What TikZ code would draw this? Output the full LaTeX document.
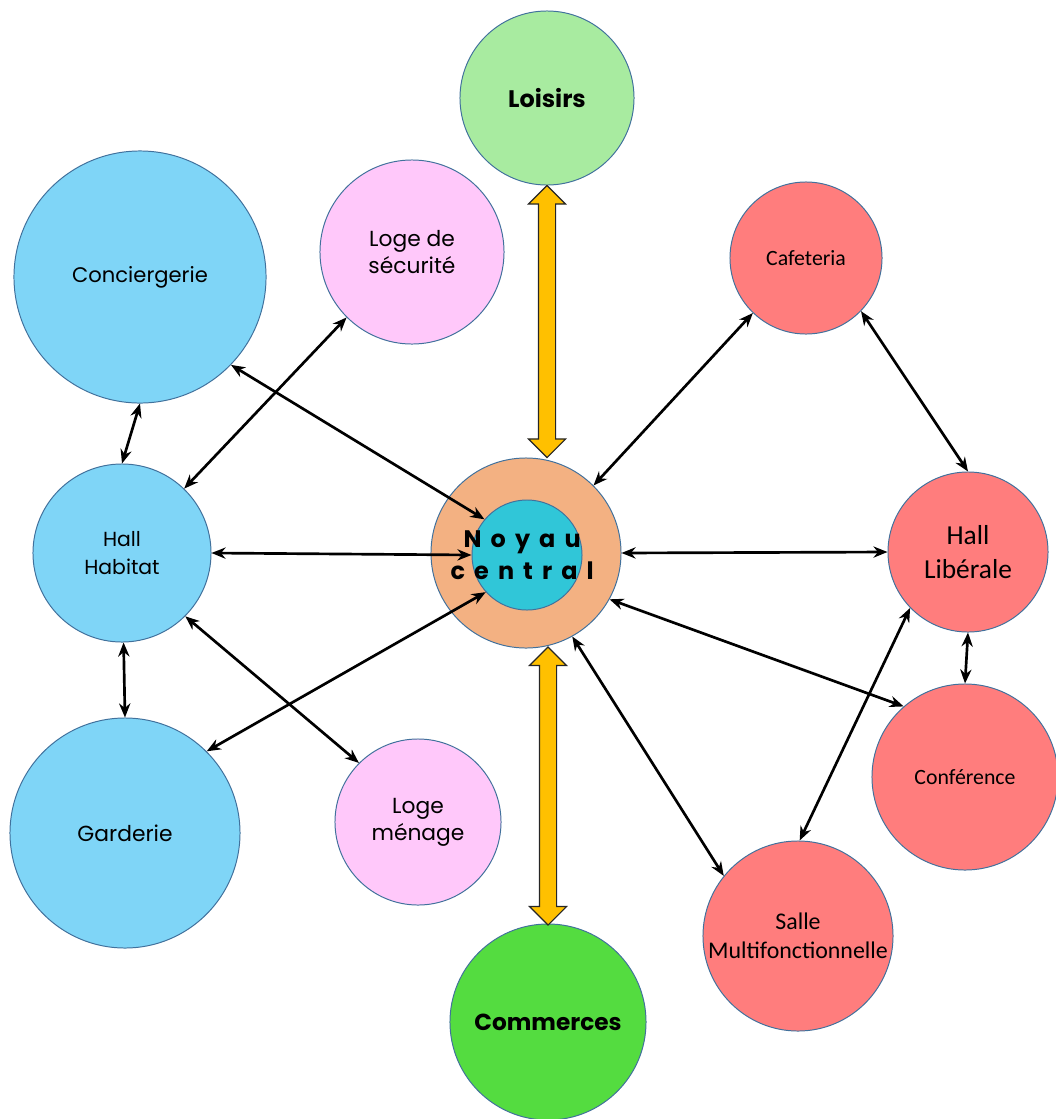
\documentclass[tikz,border=0pt]{standalone}
\usepackage{fontspec}
\setmainfont{Poppins}
\newfontfamily\calib{Carlito}
\newfontfamily\spaced[LetterSpace=38]{Poppins}
\usepackage{xcolor}
\usetikzlibrary{shapes.arrows, arrows.meta, calc}
\definecolor{rim}{RGB}{65,113,156}
\definecolor{habitat}{RGB}{127,213,247}
\definecolor{lodge}{RGB}{255,200,250}
\definecolor{leisure}{RGB}{168,235,160}
\definecolor{shops}{RGB}{84,220,64}
\definecolor{liberal}{RGB}{255,125,125}
\definecolor{ring}{RGB}{243,177,130}
\definecolor{heart}{RGB}{48,198,216}
\definecolor{gold}{RGB}{255,192,0}
\tikzset{
    room/.style={circle, draw=rim, line width=0.7pt, inner sep=0pt, align=center, text=black},
    link/.style={line width=1.9pt, {Stealth[length=10pt,width=8pt]}-{Stealth[length=10pt,width=8pt]}},
    flow/.style={double arrow, draw=black!85, fill=gold, line width=0.8pt, rotate=90,
        inner xsep=0pt, inner ysep=0.2cm, double arrow head extend=0.25cm}
}

\begin{document}
\begin{tikzpicture}[x=0.025cm, y=-0.025cm]
    \useasboundingbox (0,0) rectangle (1056,1119);

    % centre
    \node (noyau) [room, fill=ring, minimum size=4.75cm] at (526,553) {};
    \node (coeur) [room, fill=heart, minimum size=2.75cm,
        label={[align=center, xshift=-0.12cm, font=\spaced\bfseries\fontsize{17}{23}\selectfont]center:Noyau\\central}] at (527,555) {};

    % habitat side
    \node (concierge) [room, fill=habitat, minimum size=6.3cm, font=\fontsize{15}{20}\selectfont] at (140,277) {Conciergerie};
    \node (hallhab) [room, fill=habitat, minimum size=4.45cm, font=\fontsize{14.5}{20}\selectfont] at (122,553) {Hall\\Habitat};
    \node (garderie) [room, fill=habitat, minimum size=5.75cm, font=\fontsize{15.5}{20}\selectfont] at (125,833) {Garderie};
    \node (securite) [room, fill=lodge, minimum size=4.6cm, font=\fontsize{15.5}{19}\selectfont] at (412,252) {Loge de\\sécurité};
    \node (menage) [room, fill=lodge, minimum size=4.15cm, font=\fontsize{15.5}{19}\selectfont] at (418,822) {Loge\\ménage};

    % top and bottom
    \node (loisirs) [room, fill=leisure, minimum size=4.35cm, font=\bfseries\fontsize{17}{20}\selectfont] at (547,98) {Loisirs};
    \node (commerces) [room, fill=shops, minimum size=4.9cm, font=\bfseries\fontsize{16.5}{20}\selectfont] at (548,1022) {Commerces};

    % liberal side
    \node (cafet) [room, fill=liberal, minimum size=3.8cm, font=\calib\fontsize{15.5}{19}\selectfont] at (806,258) {Cafeteria};
    \node (hallib) [room, fill=liberal, minimum size=4cm, font=\calib\fontsize{19.5}{24}\selectfont] at (968,552) {Hall\\Libérale};
    \node (conf) [room, fill=liberal, minimum size=4.65cm, font=\calib\fontsize{15.5}{19}\selectfont] at (965,777) {Conférence};
    \node (salle) [room, fill=liberal, minimum size=4.75cm, font=\calib\fontsize{17}{21}\selectfont] at (798,936) {Salle\\Multifonctionnelle};

    % big arrows
    \node (upflow) [flow, minimum height=6.8cm] at ($(loisirs.south)!0.5!(loisirs.south |- noyau.north)$) {};
    \node (downflow) [flow, minimum height=6.95cm] at ($(commerces.north)!0.5!(commerces.north |- noyau.south)$) {};

    % links
    \draw [link] (concierge.-44) -- (coeur.140);
    \draw [link] (securite.225) -- (hallhab.46);
    \draw [link] (hallhab.0) -- (coeur.180);
    \draw [link] (hallhab.-45) -- (menage.135);
    \draw [link] (garderie.45) -- (coeur.222);
    \draw [link] (concierge.-90) -- (hallhab.90);
    \draw [link] (hallhab.-89) -- (garderie.90);
    \draw [link] (cafet.226) -- (noyau.45);
    \draw [link] (cafet.-44) -- (hallib.90);
    \draw [link] (noyau.0) -- (hallib.180);
    \draw [link] (noyau.-29) -- (conf.131);
    \draw [link] (noyau.-61) -- (salle.141);
    \draw [link] (hallib.224) -- (salle.89);
    \draw [link] (hallib.-90) -- (conf.90);
\end{tikzpicture}
\end{document}
